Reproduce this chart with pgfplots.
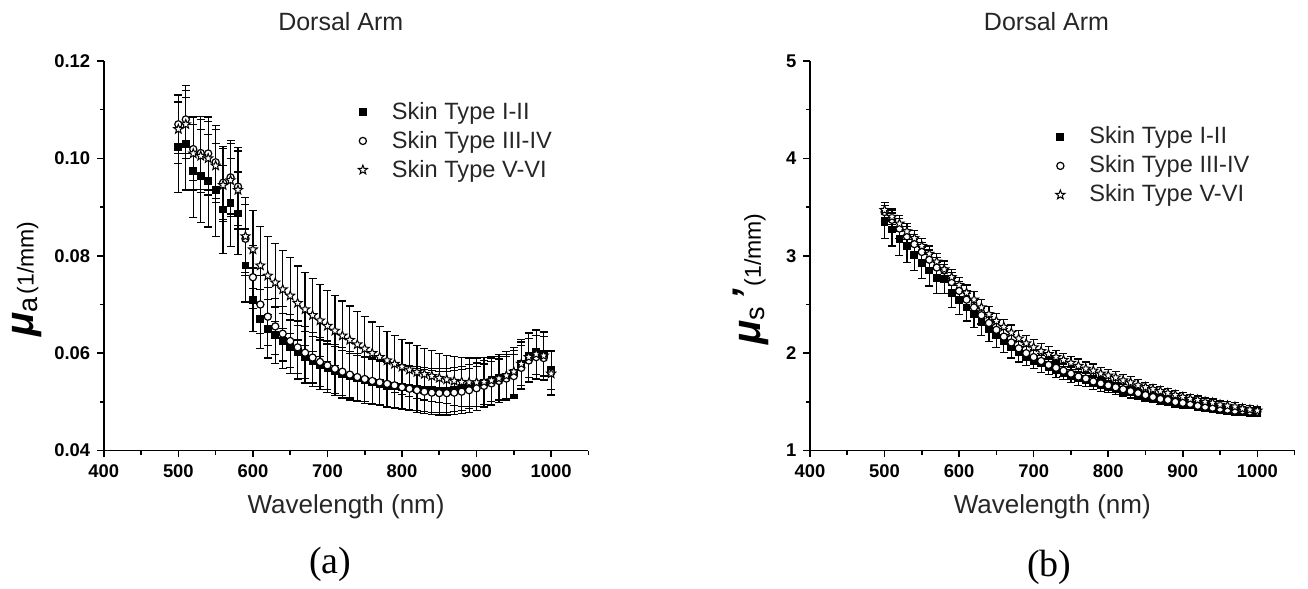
\documentclass[border=0pt]{standalone}
\usepackage{pgfplots}
\pgfplotsset{compat=1.18}
\usepackage{pgfplotstable}
\usepackage{fontspec}
\setmainfont{Liberation Sans}
\newfontfamily\seriffont{Liberation Serif}

\pgfdeclareplotmark{ostar}{%
  \pgfpathmoveto{\pgfpointpolar{90}{\pgfplotmarksize}}%
  \pgfpathlineto{\pgfpointpolar{126}{0.42*\pgfplotmarksize}}%
  \pgfpathlineto{\pgfpointpolar{162}{\pgfplotmarksize}}%
  \pgfpathlineto{\pgfpointpolar{198}{0.42*\pgfplotmarksize}}%
  \pgfpathlineto{\pgfpointpolar{234}{\pgfplotmarksize}}%
  \pgfpathlineto{\pgfpointpolar{270}{0.42*\pgfplotmarksize}}%
  \pgfpathlineto{\pgfpointpolar{306}{\pgfplotmarksize}}%
  \pgfpathlineto{\pgfpointpolar{342}{0.42*\pgfplotmarksize}}%
  \pgfpathlineto{\pgfpointpolar{18}{\pgfplotmarksize}}%
  \pgfpathlineto{\pgfpointpolar{54}{0.42*\pgfplotmarksize}}%
  \pgfpathclose
  \pgfusepathqfillstroke
}

% columns: wavelength, I-II (a, ea), III-IV (b, eb), V-VI (c, ec)
\pgfplotstableread{
x a ea b eb c ec
500 0.1023 0.0093 0.1070 0.0060 0.1060 0.0070
510 0.1030 0.0095 0.1080 0.0070 0.1070 0.0070
520 0.0974 0.0095 0.1019 0.0065 0.1010 0.0075
530 0.0964 0.0095 0.1011 0.0075 0.1005 0.0075
540 0.0954 0.0095 0.1010 0.0075 0.1000 0.0075
550 0.0935 0.0095 0.0992 0.0075 0.0985 0.0075
560 0.0895 0.0090 0.0950 0.0075 0.0945 0.0075
570 0.0909 0.0090 0.0961 0.0075 0.0955 0.0075
580 0.0887 0.0085 0.0942 0.0080 0.0935 0.0080
590 0.0780 0.0075 0.0835 0.0070 0.0840 0.0080
600 0.0710 0.0065 0.0756 0.0065 0.0813 0.0080
610 0.0670 0.0060 0.0700 0.0060 0.0780 0.0080
620 0.0650 0.0060 0.0675 0.0060 0.0759 0.0080
630 0.0637 0.0058 0.0655 0.0057 0.0745 0.0080
640 0.0625 0.0057 0.0640 0.0056 0.0731 0.0080
650 0.0613 0.0055 0.0625 0.0055 0.0718 0.0078
660 0.0602 0.0055 0.0612 0.0054 0.0703 0.0076
670 0.0592 0.0053 0.0601 0.0053 0.0690 0.0075
680 0.0583 0.0052 0.0591 0.0052 0.0678 0.0075
690 0.0576 0.0051 0.0582 0.0051 0.0667 0.0074
700 0.0569 0.0050 0.0575 0.0050 0.0656 0.0073
710 0.0563 0.0050 0.0568 0.0050 0.0646 0.0072
720 0.0557 0.0049 0.0562 0.0049 0.0636 0.0071
730 0.0552 0.0048 0.0556 0.0048 0.0627 0.0070
740 0.0548 0.0048 0.0551 0.0048 0.0618 0.0068
750 0.0544 0.0047 0.0547 0.0047 0.0609 0.0066
760 0.0541 0.0047 0.0543 0.0047 0.0600 0.0064
770 0.0538 0.0046 0.0540 0.0046 0.0592 0.0062
780 0.0535 0.0046 0.0537 0.0046 0.0585 0.0060
790 0.0533 0.0046 0.0534 0.0046 0.0578 0.0058
800 0.0531 0.0045 0.0530 0.0045 0.0572 0.0056
810 0.0529 0.0045 0.0527 0.0045 0.0566 0.0055
820 0.0527 0.0045 0.0524 0.0045 0.0561 0.0054
830 0.0525 0.0045 0.0521 0.0045 0.0557 0.0053
840 0.0524 0.0045 0.0519 0.0045 0.0553 0.0052
850 0.0523 0.0045 0.0518 0.0045 0.0549 0.0051
860 0.0523 0.0045 0.0518 0.0045 0.0546 0.0050
870 0.0525 0.0045 0.0519 0.0045 0.0543 0.0050
880 0.0528 0.0045 0.0521 0.0045 0.0541 0.0050
890 0.0531 0.0045 0.0524 0.0045 0.0540 0.0050
900 0.0535 0.0045 0.0528 0.0045 0.0540 0.0050
910 0.0540 0.0045 0.0533 0.0045 0.0541 0.0050
920 0.0545 0.0045 0.0538 0.0045 0.0544 0.0050
930 0.0549 0.0045 0.0543 0.0045 0.0548 0.0050
940 0.0552 0.0045 0.0548 0.0045 0.0554 0.0050
950 0.0560 0.0045 0.0553 0.0045 0.0562 0.0050
960 0.0578 0.0045 0.0570 0.0045 0.0578 0.0050
970 0.0595 0.0045 0.0585 0.0045 0.0592 0.0050
980 0.0602 0.0045 0.0592 0.0045 0.0598 0.0050
990 0.0598 0.0045 0.0590 0.0045 0.0595 0.0050
1000 0.0565 0.0040 0.0560 0.0045 0.0558 0.0045
}\mua

\pgfplotstableread{
x a ea b eb c ec
500 3.35 0.17 3.45 0.10 3.47 0.08
510 3.27 0.17 3.37 0.10 3.40 0.08
520 3.17 0.17 3.28 0.10 3.33 0.08
530 3.10 0.17 3.20 0.10 3.25 0.08
540 3.01 0.16 3.12 0.10 3.18 0.08
550 2.93 0.16 3.04 0.10 3.10 0.08
560 2.85 0.16 2.96 0.10 3.02 0.08
570 2.77 0.16 2.88 0.10 2.94 0.08
580 2.76 0.15 2.85 0.10 2.86 0.08
590 2.62 0.15 2.73 0.10 2.78 0.08
600 2.55 0.15 2.64 0.10 2.70 0.08
610 2.47 0.14 2.55 0.09 2.62 0.08
620 2.40 0.14 2.47 0.09 2.55 0.08
630 2.32 0.14 2.39 0.09 2.47 0.08
640 2.25 0.13 2.31 0.09 2.40 0.08
650 2.19 0.13 2.24 0.08 2.33 0.08
660 2.13 0.12 2.17 0.08 2.27 0.08
670 2.07 0.12 2.11 0.08 2.21 0.08
680 2.02 0.11 2.05 0.07 2.15 0.08
690 1.98 0.11 2.00 0.07 2.10 0.08
700 1.94 0.10 1.96 0.07 2.06 0.08
710 1.90 0.10 1.92 0.06 2.02 0.08
720 1.87 0.09 1.88 0.06 1.99 0.08
730 1.84 0.09 1.85 0.06 1.96 0.07
740 1.81 0.08 1.82 0.06 1.93 0.07
750 1.78 0.08 1.79 0.06 1.90 0.07
760 1.75 0.08 1.76 0.05 1.87 0.07
770 1.73 0.07 1.74 0.05 1.84 0.07
780 1.70 0.07 1.71 0.05 1.82 0.07
790 1.68 0.07 1.69 0.05 1.79 0.06
800 1.66 0.06 1.67 0.05 1.77 0.06
810 1.64 0.06 1.65 0.05 1.75 0.06
820 1.62 0.06 1.63 0.05 1.72 0.06
830 1.60 0.06 1.61 0.04 1.70 0.06
840 1.58 0.05 1.59 0.04 1.67 0.06
850 1.56 0.05 1.57 0.04 1.65 0.05
860 1.54 0.05 1.55 0.04 1.63 0.05
870 1.52 0.05 1.53 0.04 1.61 0.05
880 1.51 0.05 1.52 0.04 1.59 0.05
890 1.49 0.05 1.50 0.04 1.57 0.05
900 1.48 0.05 1.49 0.04 1.55 0.05
910 1.47 0.04 1.48 0.04 1.53 0.05
920 1.45 0.04 1.46 0.04 1.52 0.04
930 1.44 0.04 1.45 0.04 1.50 0.04
940 1.43 0.04 1.44 0.04 1.49 0.04
950 1.42 0.04 1.43 0.04 1.47 0.04
960 1.41 0.04 1.42 0.04 1.46 0.04
970 1.40 0.04 1.41 0.04 1.45 0.04
980 1.40 0.04 1.41 0.04 1.43 0.04
990 1.39 0.04 1.40 0.04 1.42 0.04
1000 1.39 0.04 1.40 0.04 1.41 0.04
}\mus

\pgfplotsset{
  myax/.style={
    anchor=south west, scale only axis, width=242.3pt, height=194.8pt,
    xmin=400, xmax=1050,
    xtick={400,500,...,1000}, minor xtick={450,550,...,1050},
    axis x line*=bottom, axis y line*=left,
    axis line style={-, line width=0.9pt, black},
    tick align=outside, major tick length=3.3pt, minor tick length=2pt,
    every tick/.style={line width=0.8pt, black},
    /pgf/number format/assume math mode=true,
    /pgf/number format/1000 sep={},
    ticklabel style={font=\fontsize{9.2}{10}\selectfont\bfseries},
    xlabel={Wavelength (nm)},
    xlabel style={at={(axis description cs:0.5,-0.145)}, anchor=center,
      font=\fontsize{13}{15}\selectfont, text=black!85},
    legend cell align=left,
    legend image code/.code={%
      \draw[#1] plot coordinates {(0pt,0pt)};
      \path (12.3pt,0pt);},
    legend style={draw=none, fill=none, anchor=north west,
      font=\fontsize{11.8}{13}\selectfont, text=black!85,
      nodes={inner ysep=1.5pt}, row sep=1.45pt},
    error bars/y dir=both, error bars/y explicit,
    error bars/error bar style={line width=0.6pt, black},
    error bars/error mark options={rotate=90, mark size=2pt, line width=0.6pt, black},
  },
  sq/.style={only marks, mark=square*, mark size=1.7pt, mark options={draw=black, fill=black, line width=0.5pt}},
  ci/.style={only marks, mark=*, mark size=1.8pt, mark options={draw=black, fill=white, line width=0.6pt}},
  st/.style={only marks, mark=ostar, mark size=2.4pt, mark options={draw=black, fill=white, line width=0.5pt}},
}

\begin{document}
\begin{tikzpicture}
\path[use as bounding box] (0,0) rectangle (654pt,294.5pt);

\begin{axis}[myax, at={(51.9pt,69.2pt)},
  ymin=0.04, ymax=0.12,
  ytick={0.04,0.06,0.08,0.10,0.12}, minor ytick={0.05,0.07,0.09,0.11},
  scaled y ticks=false,
  yticklabel style={/pgf/number format/.cd, fixed, fixed zerofill, precision=2},
  ylabel={{\fontsize{20}{20}\selectfont\bfseries\itshape μ}\raisebox{-0.35ex}{\fontsize{13.5}{13.5}\selectfont a}\,{\fontsize{11.5}{11.5}\selectfont (1/mm)}},
  ylabel style={at={(axis description cs:-0.158,0.44)}, anchor=center},
  legend style={at={(axis description cs:0.512,0.914)}},
  after end axis/.code={%
    \node[font=\fontsize{12.5}{14}\selectfont, text=black!85] at (axis description cs:0.489,1.10) {Dorsal Arm};
    \node[font=\seriffont\fontsize{19}{21}\selectfont] at (axis description cs:0.467,-0.291) {(a)};},
]
\addplot[sq] table[x=x, y=a, y error=ea] {\mua};
\addlegendentry{Skin Type I-II}
\addplot[ci] table[x=x, y=b, y error=eb] {\mua};
\addlegendentry{Skin Type III-IV}
\addplot[st] table[x=x, y=c, y error=ec] {\mua};
\addlegendentry{Skin Type V-VI}
\end{axis}

\begin{axis}[myax, at={(405pt,69.2pt)},
  ymin=1, ymax=5,
  ytick={1,2,3,4,5}, minor ytick={1.5,2.5,3.5,4.5},
  ylabel={{\fontsize{20}{20}\selectfont\bfseries\itshape μ}\raisebox{-0.35ex}{\fontsize{13.5}{13.5}\selectfont s}{\fontsize{20}{20}\selectfont\bfseries\itshape\,'}\,{\fontsize{11.5}{11.5}\selectfont (1/mm)}},
  ylabel style={at={(axis description cs:-0.121,0.44)}, anchor=center},
  legend style={at={(axis description cs:0.494,0.850)}},
  after end axis/.code={%
    \node[font=\fontsize{12.5}{14}\selectfont, text=black!85] at (axis description cs:0.488,1.10) {Dorsal Arm};
    \node[font=\seriffont\fontsize{19}{21}\selectfont] at (axis description cs:0.494,-0.299) {(b)};},
]
\addplot[sq] table[x=x, y=a, y error=ea] {\mus};
\addlegendentry{Skin Type I-II}
\addplot[ci] table[x=x, y=b, y error=eb] {\mus};
\addlegendentry{Skin Type III-IV}
\addplot[st] table[x=x, y=c, y error=ec] {\mus};
\addlegendentry{Skin Type V-VI}
\end{axis}
\end{tikzpicture}
\end{document}
